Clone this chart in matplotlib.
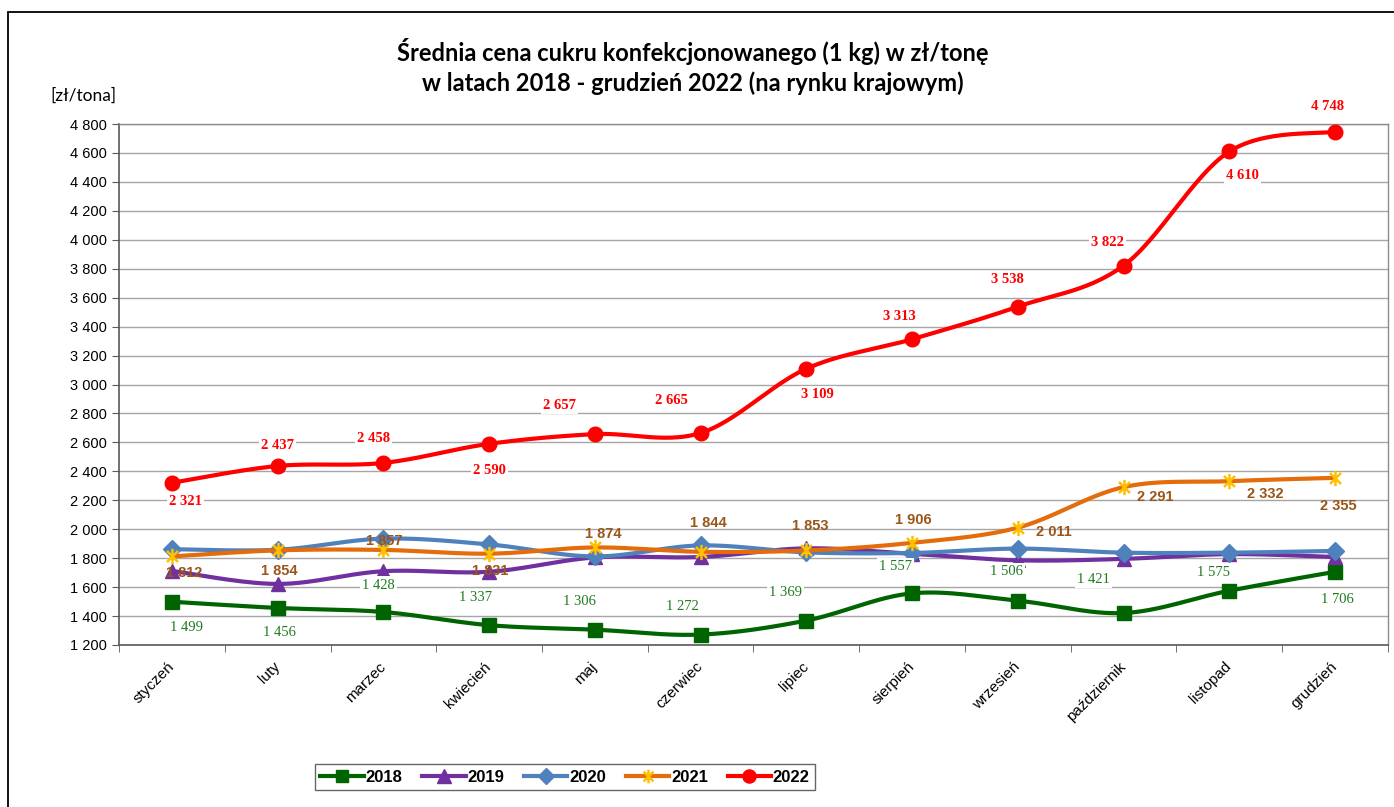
import numpy as np
import matplotlib
matplotlib.use("Agg")
import matplotlib.pyplot as plt
from matplotlib.lines import Line2D
from matplotlib.path import Path
from matplotlib.patches import Rectangle
from matplotlib.ticker import FuncFormatter, FixedLocator

# --- data ---
MONTHS = ["styczeń", "luty", "marzec", "kwiecień", "maj", "czerwiec", "lipiec",
          "sierpień", "wrzesień", "październik", "listopad", "grudzień"]
Y2018 = [1499, 1456, 1428, 1337, 1306, 1272, 1369, 1557, 1506, 1421, 1575, 1706]
Y2019 = [1712, 1622, 1710, 1706, 1805, 1808, 1868, 1830, 1785, 1795, 1828, 1808]
Y2020 = [1862, 1858, 1935, 1895, 1812, 1888, 1840, 1836, 1866, 1838, 1838, 1850]
Y2021 = [1812, 1854, 1857, 1831, 1874, 1844, 1853, 1906, 2011, 2291, 2332, 2355]
Y2022 = [2321, 2437, 2458, 2590, 2657, 2665, 3109, 3313, 3538, 3822, 4610, 4748]
YEARS = ["2018", "2019", "2020", "2021", "2022"]

TITLE = "Średnia cena cukru konfekcjonowanego (1 kg) w zł/tonę\nw latach 2018 - grudzień 2022 (na rynku krajowym)"
UNIT = "[zł/tona]"

# label offsets in pixels (dx, dy), dy upwards
OFF_2018 = [(15, -26), (2, -25), (-5, 27), (-14, 28), (-15, 28), (-18, 28),
            (-21, 28), (-17, 27), (-11, 29), (-30, 34), (-16, 18), (2, -28)]
OFF_2021 = [(12, -17), (2, -21), (1, 9), (1, -17), (8, 13), (8, 29),
            (4, 24), (1, 23), (36, -4), (32, -10), (36, -13), (3, -28)]
OFF_2022 = [(14, -19), (0, 20), (-10, 24), (0, -27), (-35, 29), (-29, 32),
            (11, -26), (-13, 23), (-10, 27), (-16, 23), (13, -24), (-8, 25)]

W, H = 1394, 807


def fmt(v, pos=None):
    return f"{v:,.0f}".replace(",", " ")


def smooth(xs, ys, n=30):
    # Catmull-Rom, like Excel's smoothed line
    xs = np.asarray(xs, float); ys = np.asarray(ys, float)
    px = np.concatenate([[xs[0]], xs, [xs[-1]]])
    py = np.concatenate([[ys[0]], ys, [ys[-1]]])
    ox, oy = [], []
    t = np.linspace(0, 1, n)
    for i in range(1, len(px) - 2):
        for p, out in ((px, ox), (py, oy)):
            p0, p1, p2, p3 = p[i - 1], p[i], p[i + 1], p[i + 2]
            c1 = p1 + (p2 - p0) / 6
            c2 = p2 - (p3 - p1) / 6
            out.extend((1 - t) ** 3 * p1 + 3 * (1 - t) ** 2 * t * c1 + 3 * (1 - t) * t ** 2 * c2 + t ** 3 * p2)
    return np.array(ox), np.array(oy)


star = Path([(0, -1), (0, 1), (-0.72, -0.72), (0.72, 0.72), (-0.72, 0.72), (0.72, -0.72)],
            [Path.MOVETO, Path.LINETO] * 3)

series = [
    (Y2018, dict(color="#006400", marker="s", ms=10, mfc="#006400", mec="#006400")),
    (Y2019, dict(color="#7030A0", marker="^", ms=10.5, mfc="#7030A0", mec="#7030A0")),
    (Y2020, dict(color="#4F81BD", marker="D", ms=9, mfc="#4F81BD", mec="#4F81BD")),
    (Y2021, dict(color="#E46C0A", marker=star, ms=11, mfc="none", mec="#FFC000", mew=1.8)),
    (Y2022, dict(color="#FF0000", marker="o", ms=10.5, mfc="#FF0000", mec="#FF0000")),
]

fig = plt.figure(figsize=(W / 100, H / 100), dpi=100)
ax = fig.add_axes([119 / W, 1 - 645 / H, (1388 - 119) / W, (645 - 124) / H])

x = np.arange(1, 13)
handles = []
for k, (ys, st) in enumerate(series):
    sx, sy = smooth(x, ys)
    ax.plot(sx, sy, color=st["color"], lw=3, zorder=3 + k, solid_capstyle="round")
    ax.plot(x, ys, ls="none", marker=st["marker"], ms=st["ms"], mfc=st["mfc"],
            mec=st["mec"], mew=st.get("mew", 1), zorder=3 + k)
    handles.append(Line2D([], [], color=st["color"], lw=3, marker=st["marker"],
                          ms=st["ms"] * 0.9, mfc=st["mfc"], mec=st["mec"], mew=st.get("mew", 1)))

# data labels
for ys, offs, kw in (
    (Y2018, OFF_2018, dict(color="#1E7B1E", family="Liberation Serif", fontsize=10.5,
                           bbox=dict(fc="white", ec="none", pad=1.5))),
    (Y2021, OFF_2021, dict(color="#9A5518", family="Liberation Sans", fontsize=10.5,
                           fontweight="bold")),
    (Y2022, OFF_2022, dict(color="#FF0000", family="Liberation Serif", fontsize=10.5,
                           fontweight="bold", bbox=dict(fc="white", ec="none", pad=1.5))),
):
    for xi, v, (dx, dy) in zip(x, ys, offs):
        ax.annotate(fmt(v), (xi, v), xytext=(dx, dy), textcoords="offset pixels",
                    ha="center", va="center", zorder=20, **kw)

ax.set_xlim(0.5, 12.5)
ax.set_ylim(1200, 4800)
ax.set_yticks(np.arange(1200, 4801, 200))
ax.yaxis.set_major_formatter(FuncFormatter(fmt))
ax.yaxis.grid(True, color="#A6A6A6", lw=1)
ax.set_axisbelow(True)

ax.set_xticks(x)
ax.set_xticklabels(MONTHS, rotation=45, ha="right", va="center", rotation_mode="anchor",
                   family="Liberation Sans", fontsize=11)
ax.xaxis.set_minor_locator(FixedLocator(np.arange(0.5, 12.6, 1)))
ax.tick_params(axis="x", which="major", length=0, pad=14)
ax.tick_params(axis="x", which="minor", length=5, color="#595959")
ax.tick_params(axis="y", length=5, color="#595959", pad=4)
for lab in ax.get_yticklabels():
    lab.set_family("Liberation Sans"); lab.set_fontsize(10.5)

for s in ("top", "right"):
    ax.spines[s].set_color("#8C8C8C"); ax.spines[s].set_linewidth(1)
for s in ("left", "bottom"):
    ax.spines[s].set_color("#595959"); ax.spines[s].set_linewidth(1.2)

fig.text(693 / W, 1 - 66.5 / H, TITLE, ha="center", va="center", family="Lato",
         fontweight="bold", fontsize=17, linespacing=1.35)
fig.text(50 / W, 1 - 96 / H, UNIT, ha="left", va="center", family="Lato", fontsize=12.5)

leg = fig.legend(handles, YEARS, loc="center", bbox_to_anchor=(565 / W, 1 - 777 / H),
                 ncol=5, frameon=True, fancybox=False, handlelength=2.6, handletextpad=0.1,
                 columnspacing=1.2, borderpad=0.35,
                 prop=dict(family="Liberation Sans", weight="bold", size=12))
leg.get_frame().set_edgecolor("#404040")
leg.get_frame().set_linewidth(1)

# chart area border
fig.patches.append(Rectangle((8 / W, -0.1), 1.2, 1 - 12 / H + 0.1, transform=fig.transFigure,
                             fill=False, ec="black", lw=1.3))

fig.savefig("out.png", dpi=100)
